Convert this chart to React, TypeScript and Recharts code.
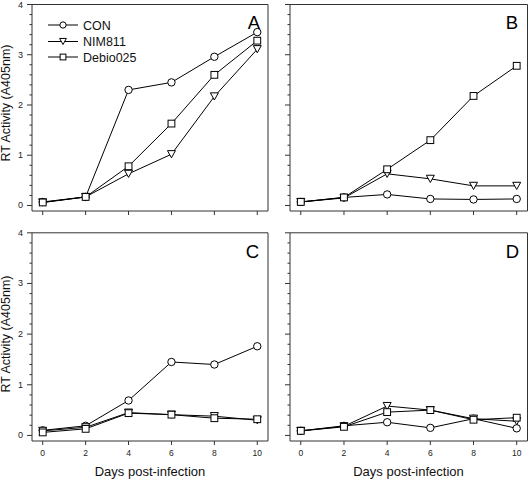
import { Line, LineChart, ReferenceArea, XAxis, YAxis } from 'recharts'

const FONT = '"Liberation Sans", Arial, Helvetica, sans-serif'

// days post-infection
const days = [0, 2, 4, 6, 8, 10]
const seriesNames = ['CON', 'NIM811', 'Debio025']

// panel A
const conA = [0.07, 0.17, 2.3, 2.45, 2.96, 3.45]
const nimA = [0.06, 0.17, 0.63, 1.02, 2.17, 3.11]
const debA = [0.06, 0.17, 0.78, 1.63, 2.6, 3.28]

// panel B
const conB = [0.07, 0.16, 0.22, 0.13, 0.12, 0.13]
const nimB = [0.07, 0.15, 0.63, 0.53, 0.39, 0.39]
const debB = [0.07, 0.16, 0.72, 1.3, 2.18, 2.78]

// panel C
const conC = [0.1, 0.19, 0.69, 1.45, 1.4, 1.76]
const nimC = [0.09, 0.16, 0.45, 0.41, 0.38, 0.3]
const debC = [0.06, 0.13, 0.44, 0.41, 0.34, 0.32]

// panel D
const conD = [0.09, 0.19, 0.26, 0.15, 0.33, 0.14]
const nimD = [0.09, 0.18, 0.58, 0.5, 0.33, 0.28]
const debD = [0.09, 0.17, 0.46, 0.5, 0.31, 0.35]

const xTicks = [0, 2, 4, 6, 8, 10]
const yTicks = [
  0, 0.2, 0.4, 0.6, 0.8, 1, 1.2, 1.4, 1.6, 1.8, 2, 2.2, 2.4, 2.6, 2.8, 3, 3.2,
  3.4, 3.6, 3.8, 4,
]

const X_DOMAIN: [number, number] = [-0.5, 10.5]
const Y_DOMAIN: [number, number] = [-0.11, 4]
const AXIS = '#333'

type Shape = 'circle' | 'triangle' | 'square'
const shapes: Shape[] = ['circle', 'triangle', 'square']

function Marker({ cx, cy, shape, s = 1 }: { cx?: number; cy?: number; shape: Shape; s?: number }) {
  if (cx == null || cy == null) return null
  const common = { fill: '#fff', stroke: '#000', strokeWidth: 1 }
  if (shape === 'circle') return <circle cx={cx} cy={cy} r={3.7 * s} {...common} />
  if (shape === 'square') {
    const h = 3.4 * s
    return <rect x={cx - h} y={cy - h} width={h * 2} height={h * 2} {...common} />
  }
  const w = 4 * s
  const h = 3.6 * s
  return (
    <polygon
      points={`${cx - w},${cy - h} ${cx + w},${cy - h} ${cx},${cy + h}`}
      {...common}
    />
  )
}

function XTick({ x, y, payload, showLabel }: any) {
  return (
    <g>
      <line x1={x} x2={x} y1={y} y2={y + 4} stroke={AXIS} />
      {showLabel && (
        <text x={x} y={y + 15} textAnchor="middle" fontSize={8.5} fontFamily={FONT} fill="#222">
          {payload.value}
        </text>
      )}
    </g>
  )
}

function YTick({ x, y, payload, showLabel }: any) {
  const v = payload.value
  const major = Math.abs(v - Math.round(v)) < 1e-6
  return (
    <g>
      <line x1={x - (major ? 5 : 2.5)} x2={x} y1={y} y2={y} stroke={AXIS} />
      {major && showLabel && (
        <text x={x - 9} y={y + 3} textAnchor="end" fontSize={9} fontFamily={FONT} fill="#222">
          {Math.round(v)}
        </text>
      )}
    </g>
  )
}

// legend drawn at its page position inside panel A
function LegendBox({ x, y }: { x: number; y: number }) {
  const rowY = [0, 16.5, 32]
  return (
    <g transform={`translate(${x},${y})`}>
      {seriesNames.map((name, i) => (
        <g key={name}>
          <line x1={0} x2={30} y1={rowY[i]} y2={rowY[i]} stroke="#000" />
          <Marker cx={15} cy={rowY[i]} shape={shapes[i]} s={0.85} />
          <text x={35} y={rowY[i] + 4.5} fontSize={12.5} fontFamily={FONT} fill="#111">
            {name}
          </text>
        </g>
      ))}
    </g>
  )
}

type Box = {
  left: number
  top: number
  width: number
  height: number
  margin: { top: number; right: number; bottom: number; left: number }
}

function Panel({
  con,
  nim,
  deb,
  box,
  xLabels,
  yLabels,
}: {
  con: number[]
  nim: number[]
  deb: number[]
  box: Box
  xLabels?: boolean
  yLabels?: boolean
}) {
  const data = days.map((d, i) => ({ day: d, con: con[i], nim: nim[i], deb: deb[i] }))
  const series = ['con', 'nim', 'deb']
  return (
    <div style={{ position: 'absolute', left: box.left, top: box.top }}>
      <LineChart width={box.width} height={box.height} data={data} margin={box.margin}>
        <XAxis
          type="number"
          dataKey="day"
          domain={X_DOMAIN}
          allowDataOverflow
          ticks={xTicks}
          interval={0}
          height={1}
          tickSize={0}
          tickMargin={0}
          axisLine={false}
          tickLine={false}
          tick={(p: any) => <XTick {...p} showLabel={xLabels} />}
        />
        <YAxis
          type="number"
          domain={Y_DOMAIN}
          allowDataOverflow
          ticks={yTicks}
          interval={0}
          width={1}
          tickSize={0}
          tickMargin={0}
          axisLine={false}
          tickLine={false}
          tick={(p: any) => <YTick {...p} showLabel={yLabels} />}
        />
        <ReferenceArea
          x1={X_DOMAIN[0]}
          x2={X_DOMAIN[1]}
          y1={Y_DOMAIN[0]}
          y2={Y_DOMAIN[1]}
          fill="none"
          stroke={AXIS}
          strokeWidth={1}
          ifOverflow="visible"
        />
        {series.map((key, si) => (
          <Line
            key={key}
            dataKey={key}
            stroke="#000"
            strokeWidth={1}
            isAnimationActive={false}
            dot={(p: any) => (
              <Marker key={`${key}-${p.index}`} cx={p.cx} cy={p.cy} shape={shapes[si]} />
            )}
            activeDot={false}
          />
        ))}
      </LineChart>
    </div>
  )
}

// margin.left / bottom exclude the 1px axis band
const boxA: Box = { left: 0, top: 0, width: 270, height: 225, margin: { top: 4.5, right: 2, bottom: 13, left: 31 } }
const boxB: Box = { left: 270, top: 0, width: 258, height: 225, margin: { top: 4.5, right: 0.5, bottom: 13, left: 19 } }
const boxC: Box = { left: 0, top: 225, width: 270, height: 254, margin: { top: 7.8, right: 2, bottom: 37, left: 31 } }
const boxD: Box = { left: 270, top: 225, width: 258, height: 254, margin: { top: 7.8, right: 0.5, bottom: 37, left: 19 } }

const panelLetters = [
  { t: 'A', x: 254, y: 28.5 },
  { t: 'B', x: 512, y: 28.5 },
  { t: 'C', x: 252.5, y: 258 },
  { t: 'D', x: 512.5, y: 258 },
]

export default function App() {
  return (
    <div style={{ position: 'absolute', left: 0, top: 0, width: 528, height: 479, background: '#fff' }}>
      <Panel con={conA} nim={nimA} deb={debA} box={boxA} yLabels />
      <Panel con={conB} nim={nimB} deb={debB} box={boxB} />
      <Panel con={conC} nim={nimC} deb={debC} box={boxC} xLabels yLabels />
      <Panel con={conD} nim={nimD} deb={debD} box={boxD} xLabels />
      <svg
        width={528}
        height={479}
        style={{ position: 'absolute', left: 0, top: 0, pointerEvents: 'none' }}
        fontFamily={FONT}
      >
        <LegendBox x={48} y={25} />
        {panelLetters.map((l) => (
          <text key={l.t} x={l.x} y={l.y} textAnchor="middle" fontSize={18.5} fill="#000">
            {l.t}
          </text>
        ))}
        <text x={10} y={103} transform="rotate(-90 10 103)" textAnchor="middle" fontSize={12.5} fill="#111">
          RT Activity (A405nm)
        </text>
        <text x={10} y={334} transform="rotate(-90 10 334)" textAnchor="middle" fontSize={12.5} fill="#111">
          RT Activity (A405nm)
        </text>
        <text x={150} y={476} textAnchor="middle" fontSize={13} fill="#111">
          Days post-infection
        </text>
        <text x={408.5} y={476} textAnchor="middle" fontSize={13} fill="#111">
          Days post-infection
        </text>
      </svg>
    </div>
  )
}
